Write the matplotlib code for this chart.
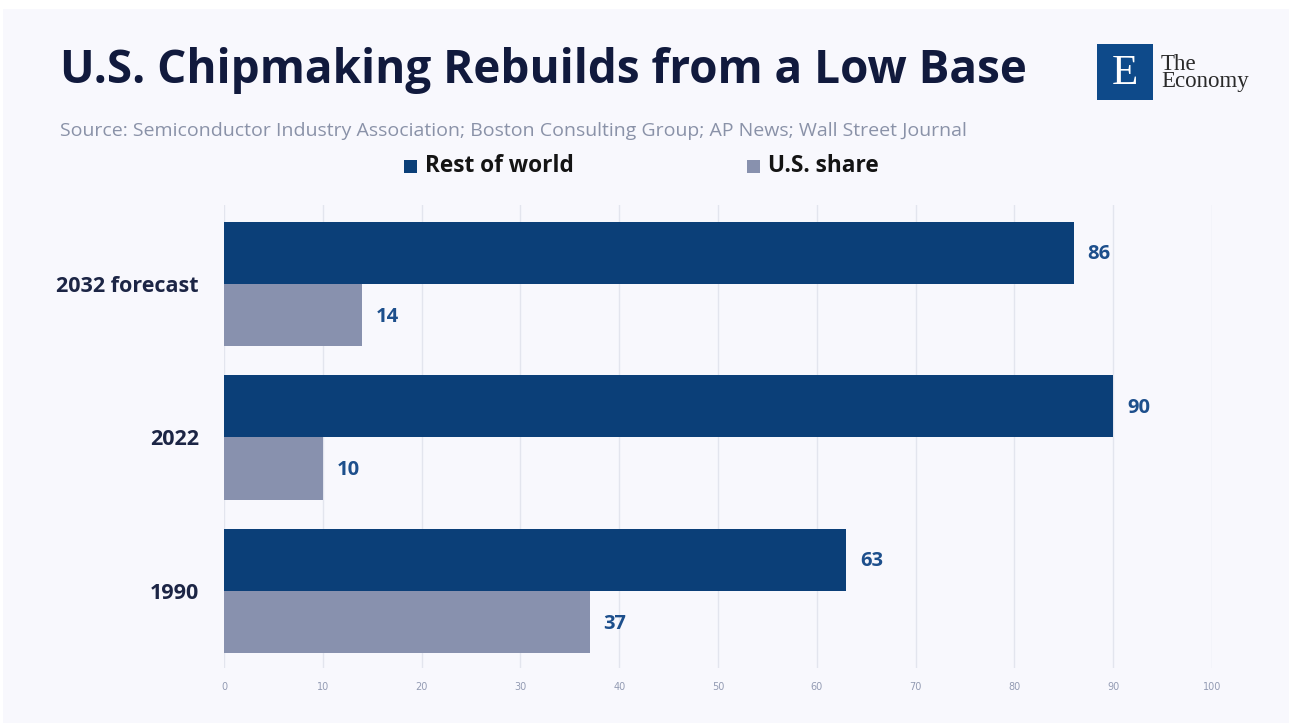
import matplotlib.pyplot as plt
from matplotlib.patches import Rectangle
import numpy as np

categories = ['2032 forecast', '2022', '1990']
rest_of_world = [86, 90, 63]
us_share = [14, 10, 37]
xticks = [0, 10, 20, 30, 40, 50, 60, 70, 80, 90, 100]

W, H = 1289, 723
bg = '#f8f8fd'
dark = '#0b3f78'
grey = '#8891ae'
navy = '#111a3d'

fig = plt.figure(figsize=(W / 100, H / 100), dpi=100)
fig.patch.set_facecolor('white')
fig.patches.append(Rectangle((3 / W, 0), 1 - 3 / W, 1 - 9 / H, transform=fig.transFigure,
                             facecolor=bg, edgecolor='none', zorder=-10))

ax = fig.add_axes([224 / W, 1 - 668 / H, 988 / W, 463 / H])
ax.set_facecolor(bg)

y = np.arange(len(categories))[::-1].astype(float)
h = 0.407
ax.barh(y + h / 2, rest_of_world, height=h, color=dark, zorder=3)
ax.barh(y - h / 2, us_share, height=h, color=grey, zorder=3)

for yi, v in zip(y, rest_of_world):
    ax.text(v + 1.4, yi + h / 2 - 0.01, str(v), va='center', ha='left', fontsize=14.5,
            fontweight='bold', color='#1d4f8c', family='Open Sans')
for yi, v in zip(y, us_share):
    ax.text(v + 1.4, yi - h / 2 - 0.01, str(v), va='center', ha='left', fontsize=14.5,
            fontweight='bold', color='#1d4f8c', family='Open Sans')

ax.set_xlim(0, 100)
ax.set_ylim(-0.502, 2.515)
ax.set_xticks(xticks)
ax.set_xticklabels([str(t) for t in xticks], fontsize=7, color='#939bb3')
ax.set_yticks(y)
ax.set_yticklabels(categories, fontsize=15.5, fontweight='bold', color='#1c2545', family='Open Sans')
ax.tick_params(axis='x', length=0, pad=10)
ax.tick_params(axis='y', length=0, pad=18)
ax.grid(axis='x', color='#e3e5ee', linewidth=1, zorder=0)
for s in ax.spines.values():
    s.set_visible(False)

fig.text(60 / W, 1 - 71 / H, 'U.S. Chipmaking Rebuilds from a Low Base', fontsize=33,
         fontweight='bold', color=navy, va='center', ha='left', family='Open Sans')
fig.text(60 / W, 1 - 131 / H,
         'Source: Semiconductor Industry Association; Boston Consulting Group; AP News; Wall Street Journal',
         fontsize=14, color='#8a92a8', va='center', ha='left', family='Open Sans')

# legend
for xs, lab, c in [(404, 'Rest of world', dark), (747, 'U.S. share', grey)]:
    fig.patches.append(Rectangle((xs / W, 1 - 173 / H), 13 / W, 13 / H,
                                 transform=fig.transFigure, facecolor=c, edgecolor='none'))
    fig.text((xs + 21) / W, 1 - 166 / H, lab, fontsize=16.3, fontweight='bold',
             color='#141414', va='center', ha='left', family='Open Sans')

# logo
fig.patches.append(Rectangle((1097 / W, 1 - 100 / H), 56 / W, 56 / H,
                             transform=fig.transFigure, facecolor='#0e4a8a', edgecolor='none'))
fig.text(1125 / W, 1 - 74 / H, 'E', fontsize=31, color='white', family='Liberation Serif',
         va='center', ha='center')
fig.text(1161 / W, 1 - 73 / H, 'The\nEconomy', fontsize=16.5, color='#2a2a2a',
         family='Liberation Serif', va='center', ha='left', linespacing=0.8)

fig.savefig('out.png', dpi=100, facecolor=fig.get_facecolor())
